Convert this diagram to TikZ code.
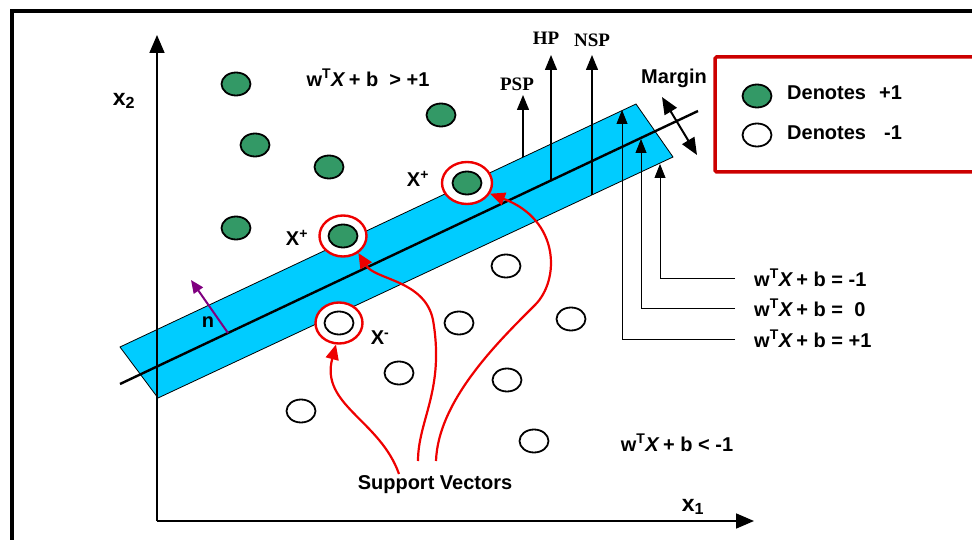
\documentclass[tikz,border=0pt]{standalone}
\usepackage{fontspec}
\setmainfont{Liberation Serif}
\setsansfont{Liberation Sans}
\usetikzlibrary{shapes.geometric,arrows.meta,positioning}

\definecolor{bandblue}{RGB}{0,204,255}
\definecolor{posgreen}{RGB}{51,153,102}
\definecolor{svred}{RGB}{238,0,0}
\definecolor{boxred}{RGB}{204,0,0}
\definecolor{normalpurple}{RGB}{128,0,128}

\begin{document}
\begin{tikzpicture}[
    x=1pt, y=-1pt,
    point/.style={ellipse, draw, line width=1.8pt, minimum width=29pt, minimum height=23pt, inner sep=0pt},
    pospt/.style={point, fill=posgreen},
    negpt/.style={point, fill=white},
    ring/.style={ellipse, draw=svred, line width=2.4pt, minimum width=47pt, minimum height=41pt, inner sep=0pt},
    lbl/.style={font=\fontsize{20}{22}\selectfont\sffamily\bfseries, inner sep=0pt},
    axislbl/.style={font=\fontsize{23}{25}\selectfont\sffamily\bfseries, inner sep=0pt},
    planelbl/.style={font=\fontsize{19}{21}\selectfont\rmfamily\bfseries, inner sep=0pt},
    axis/.style={line width=1.8pt, -{Triangle[length=18pt, width=15pt]}},
    vec/.style={line width=1.3pt, -{Triangle[length=15pt, width=12pt]}},
    lead/.style={line width=0.8pt, -{Triangle[length=14pt, width=11pt]}},
    svarrow/.style={svred, line width=2.2pt, -{Triangle[length=15pt, width=13pt]}},
    normalvec/.style={normalpurple, line width=2pt, -{Triangle[length=13pt, width=11pt]}}
  ]
  \useasboundingbox (0,0) rectangle (972,540);
  \draw[line width=3.5pt] (12,548) |- (980,11);
  \draw[boxred, line width=3.5pt, rounded corners=1.5pt] (715,57) rectangle (990,172);
  \node[pospt] (legPos) at (757,96) {};
  \node[lbl, anchor=west] (legPosText) at (787,93) {Denotes\hspace{13pt}+1};
  \node[negpt] (legNeg) at (757,135) {};
  \node[lbl, anchor=west] (legNegText) at (787,133) {Denotes\hspace{18pt}-1};

  \coordinate (bandTL) at (120,347);
  \coordinate (bandTR) at (636,104);
  \coordinate (bandBR) at (673,157);
  \coordinate (bandBL) at (158,398);
  \coordinate (hpL) at (120,384);
  \coordinate (hpR) at (698,111);
  \draw[fill=bandblue, line width=0.8pt] (bandTL) -- (bandTR) -- (bandBR) -- (bandBL) -- cycle;
  \draw[line width=2.4pt] (hpL) -- (hpR);

  \coordinate (origin) at (157,521);
  \coordinate (x2tip) at (157,35);
  \coordinate (x1tip) at (754,521);
  \draw[axis] (origin) -- (x2tip);
  \draw[axis] (origin) -- (x1tip);
  \node[axislbl] (x2lbl) at (124,101) {x\textsubscript{2}};
  \node[axislbl] (x1lbl) at (693,507) {x\textsubscript{1}};

  \coordinate (pspBase) at (523,157);
  \coordinate (pspTip) at (523,95);
  \coordinate (hpBase) at (551,180);
  \coordinate (hpTip) at (551,55);
  \coordinate (nspBase) at (592,195);
  \coordinate (nspTip) at (592,55);
  \draw[vec] (pspBase) -- (pspTip);
  \draw[vec] (hpBase) -- (hpTip);
  \draw[vec] (nspBase) -- (nspTip);
  \node[planelbl] (psp) at (517,84) {PSP};
  \node[planelbl] (hp) at (546,38) {HP};
  \node[planelbl] (nsp) at (592,40) {NSP};

  \coordinate (mA) at (662,97);
  \coordinate (mB) at (697,155);
  \draw[line width=2pt, {Triangle[length=17pt, width=14pt]}-{Triangle[length=17pt, width=14pt]}] (mA) -- (mB);
  \node[lbl] (margin) at (674,78) {Margin};

  \node[lbl, anchor=west] (eqMinus) at (754,278) {w\textsuperscript{T}\textit{X}\,+ b = -1};
  \node[lbl, anchor=west] (eqZero) at (754,308) {w\textsuperscript{T}\textit{X}\,+ b =\ \ 0};
  \node[lbl, anchor=west] (eqPlus) at (754,339) {w\textsuperscript{T}\textit{X}\,+ b = +1};
  \coordinate (minusTip) at (660,164);
  \coordinate (zeroTip) at (641,139);
  \coordinate (plusTip) at (622,110);
  \draw[lead] ([xshift=-19pt]eqMinus.west) -| (minusTip);
  \draw[lead] ([xshift=-19pt]eqZero.west) -| (zeroTip);
  \draw[lead] ([xshift=-19pt]eqPlus.west) -| (plusTip);

  \node[pospt] (p1) at (236,84) {};
  \node[pospt] (p2) at (255,145) {};
  \node[pospt] (p3) at (329,167) {};
  \node[pospt] (p4) at (441,115) {};
  \node[pospt] (p5) at (236,228) {};
  \node[negpt] (n1) at (506,266) {};
  \node[negpt] (n2) at (459,323) {};
  \node[negpt] (n3) at (571,319) {};
  \node[negpt] (n4) at (399,373) {};
  \node[negpt] (n5) at (507,380) {};
  \node[negpt] (n6) at (301,411) {};
  \node[negpt] (n7) at (534,441) {};

  \node[ring, fill=white] (ringA) at (343,236) {};
  \node[pospt] (svA) at (343,236) {};
  \node[ring, fill=white, minimum width=50pt, minimum height=42pt] (ringB) at (467,183) {};
  \node[pospt] (svB) at (467,183) {};
  \node[ring, fill=white] (ringC) at (339,323) {};
  \node[negpt] (svC) at (339,323) {};
  \node[lbl] (xPlusA) at (297,238) {X\textsuperscript{+}};
  \node[lbl] (xPlusB) at (418,179) {X\textsuperscript{+}};
  \node[lbl] (xMinus) at (380,338) {X\textsuperscript{-}};

  \coordinate (nBase) at (228,333);
  \coordinate (nTip) at (191,280);
  \draw[normalvec] (nBase) -- (nTip);
  \node[lbl] (nlbl) at (208,322) {n};

  \node[lbl] (posRegion) at (368,78) {w\textsuperscript{T}\textit{X}\,+ b\ \ > +1};
  \node[lbl] (negRegion) at (677,443) {w\textsuperscript{T}\textit{X}\,+ b < -1};

  \node[lbl] (svlbl) at (435,485) {Support Vectors};
  \coordinate (svStartA) at (399,474);
  \coordinate (svStartB) at (418,461);
  \coordinate (svStartC) at (436,461);
  \draw[svarrow] (svStartA) .. controls (380,420) and (320,405) .. (ringC.-98);
  \draw[svarrow] (svStartB) .. controls (418,420) and (445,390) .. (433,320) .. controls (425,280) and (375,280) .. (ringA.-48);
  \draw[svarrow] (svStartC) .. controls (438,400) and (500,340) .. (535,305) .. controls (560,280) and (560,220) .. (ringB.-25);
\end{tikzpicture}
\end{document}
